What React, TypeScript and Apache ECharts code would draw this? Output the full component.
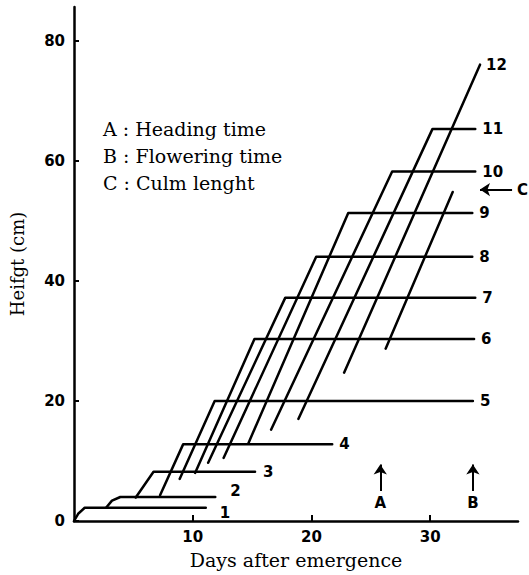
import React, { useEffect, useRef } from "react";
import * as echarts from "echarts";

// ---- data ----
const xTickValues = [10, 20, 30];
const yTickValues = [0, 20, 40, 60, 80];

const leafLabels = ["1", "2", "3", "4", "5", "6", "7", "8", "9", "10", "11", "12"];

// [day, height(cm)]
const leaf1 = [[0, 0], [0.35, 1.2], [0.9, 2.2], [11.1, 2.2]];
const leaf2 = [[2.7, 2.2], [3.2, 3.4], [3.9, 4.0], [11.9, 4.0]];
const leaf3 = [[5.2, 3.9], [6.7, 8.2], [15.25, 8.2]];
const leaf4 = [[7.25, 4.3], [9.2, 12.8], [21.75, 12.8]];
const leaf5 = [[8.9, 7.0], [11.85, 20.0], [33.6, 20.0]];
const leaf6 = [[10.2, 8.0], [15.2, 30.3], [33.7, 30.3]];
const leaf7 = [[11.3, 9.7], [17.8, 37.2], [33.8, 37.2]];
const leaf8 = [[12.6, 10.5], [20.4, 44.0], [33.55, 44.0]];
const leaf9 = [[14.7, 13.0], [23.1, 51.3], [33.55, 51.3]];
const leaf10 = [[16.6, 15.2], [26.8, 58.2], [33.8, 58.2]];
const leaf11 = [[18.9, 17.0], [30.2, 65.3], [33.8, 65.3]];
const leaf12 = [[22.75, 24.7], [34.2, 76.0]];
const culmLine = [[26.25, 28.7], [31.9, 54.8]];

const leafLines = [leaf1, leaf2, leaf3, leaf4, leaf5, leaf6, leaf7, leaf8, leaf9, leaf10, leaf11, leaf12];

const headingDay = 25.8;
const floweringDay = 33.6;
const culmLength = 55.2;
const annotationLabels = ["A", "B", "C"];
const legendTexts = ["A : Heading time", "B : Flowering time", "C : Culm lenght"];

// ---- layout / style ----
const X_MAX = 37.4;
const Y_MAX = 85.6;
const labelFont = { fontFamily: "DejaVu Sans", fontWeight: "bold" as const, fontSize: 15, color: "#000" };
const serif = '"DejaVu Serif"';
const leafLabelStyle = [
  { distance: 14, offset: [0, 5] },
  { distance: 15, offset: [0, -6] },
  { distance: 8, offset: [0, 0] },
  { distance: 7, offset: [0, 0] },
  { distance: 7, offset: [0, 0] },
  { distance: 7, offset: [0, 0] },
  { distance: 7, offset: [0, 0] },
  { distance: 7, offset: [0, 0] },
  { distance: 7, offset: [0, 0] },
  { distance: 7, offset: [0, 0] },
  { distance: 7, offset: [0, 0] },
  { distance: 6, offset: [0, 0] },
];

export default function App() {
  const ref = useRef<HTMLDivElement>(null);

  useEffect(() => {
    if (!ref.current) return;
    const chart = echarts.init(ref.current, undefined, { renderer: "svg" });

    const leafSeries = leafLines.map((pts, i) => ({
      type: "line",
      name: "Leaf " + leafLabels[i],
      data: pts,
      showSymbol: false,
      symbol: "none",
      clip: false,
      lineStyle: { color: "#000", width: 2.5, join: "round", cap: "round" },
      endLabel: {
        show: true,
        formatter: leafLabels[i],
        distance: leafLabelStyle[i].distance,
        offset: leafLabelStyle[i].offset,
        ...labelFont,
      },
      z: 3,
    }));

    const option = {
      animation: false,
      backgroundColor: "#fff",
      grid: { left: 69, right: 11, top: 7, bottom: 54, containLabel: false },
      xAxis: {
        type: "value",
        min: 0,
        max: X_MAX,
        name: "Days after emergence",
        nameLocation: "middle",
        nameGap: 29,
        nameTextStyle: { fontFamily: serif, fontSize: 19, color: "#000" },
        axisLine: { show: true, onZero: false, lineStyle: { color: "#000", width: 2.5 } },
        axisTick: { show: true, inside: true, length: 6, customValues: xTickValues, lineStyle: { color: "#000", width: 2 } },
        axisLabel: { show: true, customValues: xTickValues, margin: 8, ...labelFont },
        splitLine: { show: false },
      },
      yAxis: {
        type: "value",
        min: 0,
        max: Y_MAX,
        name: "Heifgt (cm)",
        nameLocation: "middle",
        nameGap: 48,
        nameTextStyle: { fontFamily: serif, fontSize: 18, color: "#000" },
        axisLine: { show: true, onZero: false, lineStyle: { color: "#000", width: 2.5 } },
        axisTick: { show: true, inside: true, length: 5, customValues: yTickValues, lineStyle: { color: "#000", width: 2 } },
        axisLabel: { show: true, customValues: yTickValues, margin: 9, ...labelFont },
        splitLine: { show: false },
      },
      graphic: legendTexts.map((t, i) => ({
        type: "text",
        left: 103,
        top: 119 + i * 27,
        style: { text: t, font: "19px " + serif, fill: "#000" },
      })),
      series: [
        ...leafSeries,
        {
          type: "line",
          name: "Culm",
          data: culmLine,
          showSymbol: false,
          symbol: "none",
          lineStyle: { color: "#000", width: 2.5, cap: "round" },
          z: 3,
        },
        {
          type: "line",
          name: "annotations",
          data: [],
          markLine: {
            silent: true,
            symbol: ["none", "arrow"],
            symbolSize: 10,
            lineStyle: { color: "#000", width: 2, type: "solid" },
            label: { show: true, position: "start", distance: 5, formatter: "{b}", ...labelFont },
            data: [
              [{ name: annotationLabels[0], coord: [headingDay, 5.0] }, { coord: [headingDay, 9.4] }],
              [{ name: annotationLabels[1], coord: [floweringDay, 5.0] }, { coord: [floweringDay, 9.4] }],
              [{ name: annotationLabels[2], coord: [36.9, culmLength] }, { coord: [34.2, culmLength] }],
            ],
          },
        },
      ],
    };

    chart.setOption(option as any);
    return () => chart.dispose();
  }, []);

  return (
    <div
      ref={ref}
      style={{ position: "absolute", left: 0, top: 0, width: 529, height: 575, background: "#fff" }}
    />
  );
}
